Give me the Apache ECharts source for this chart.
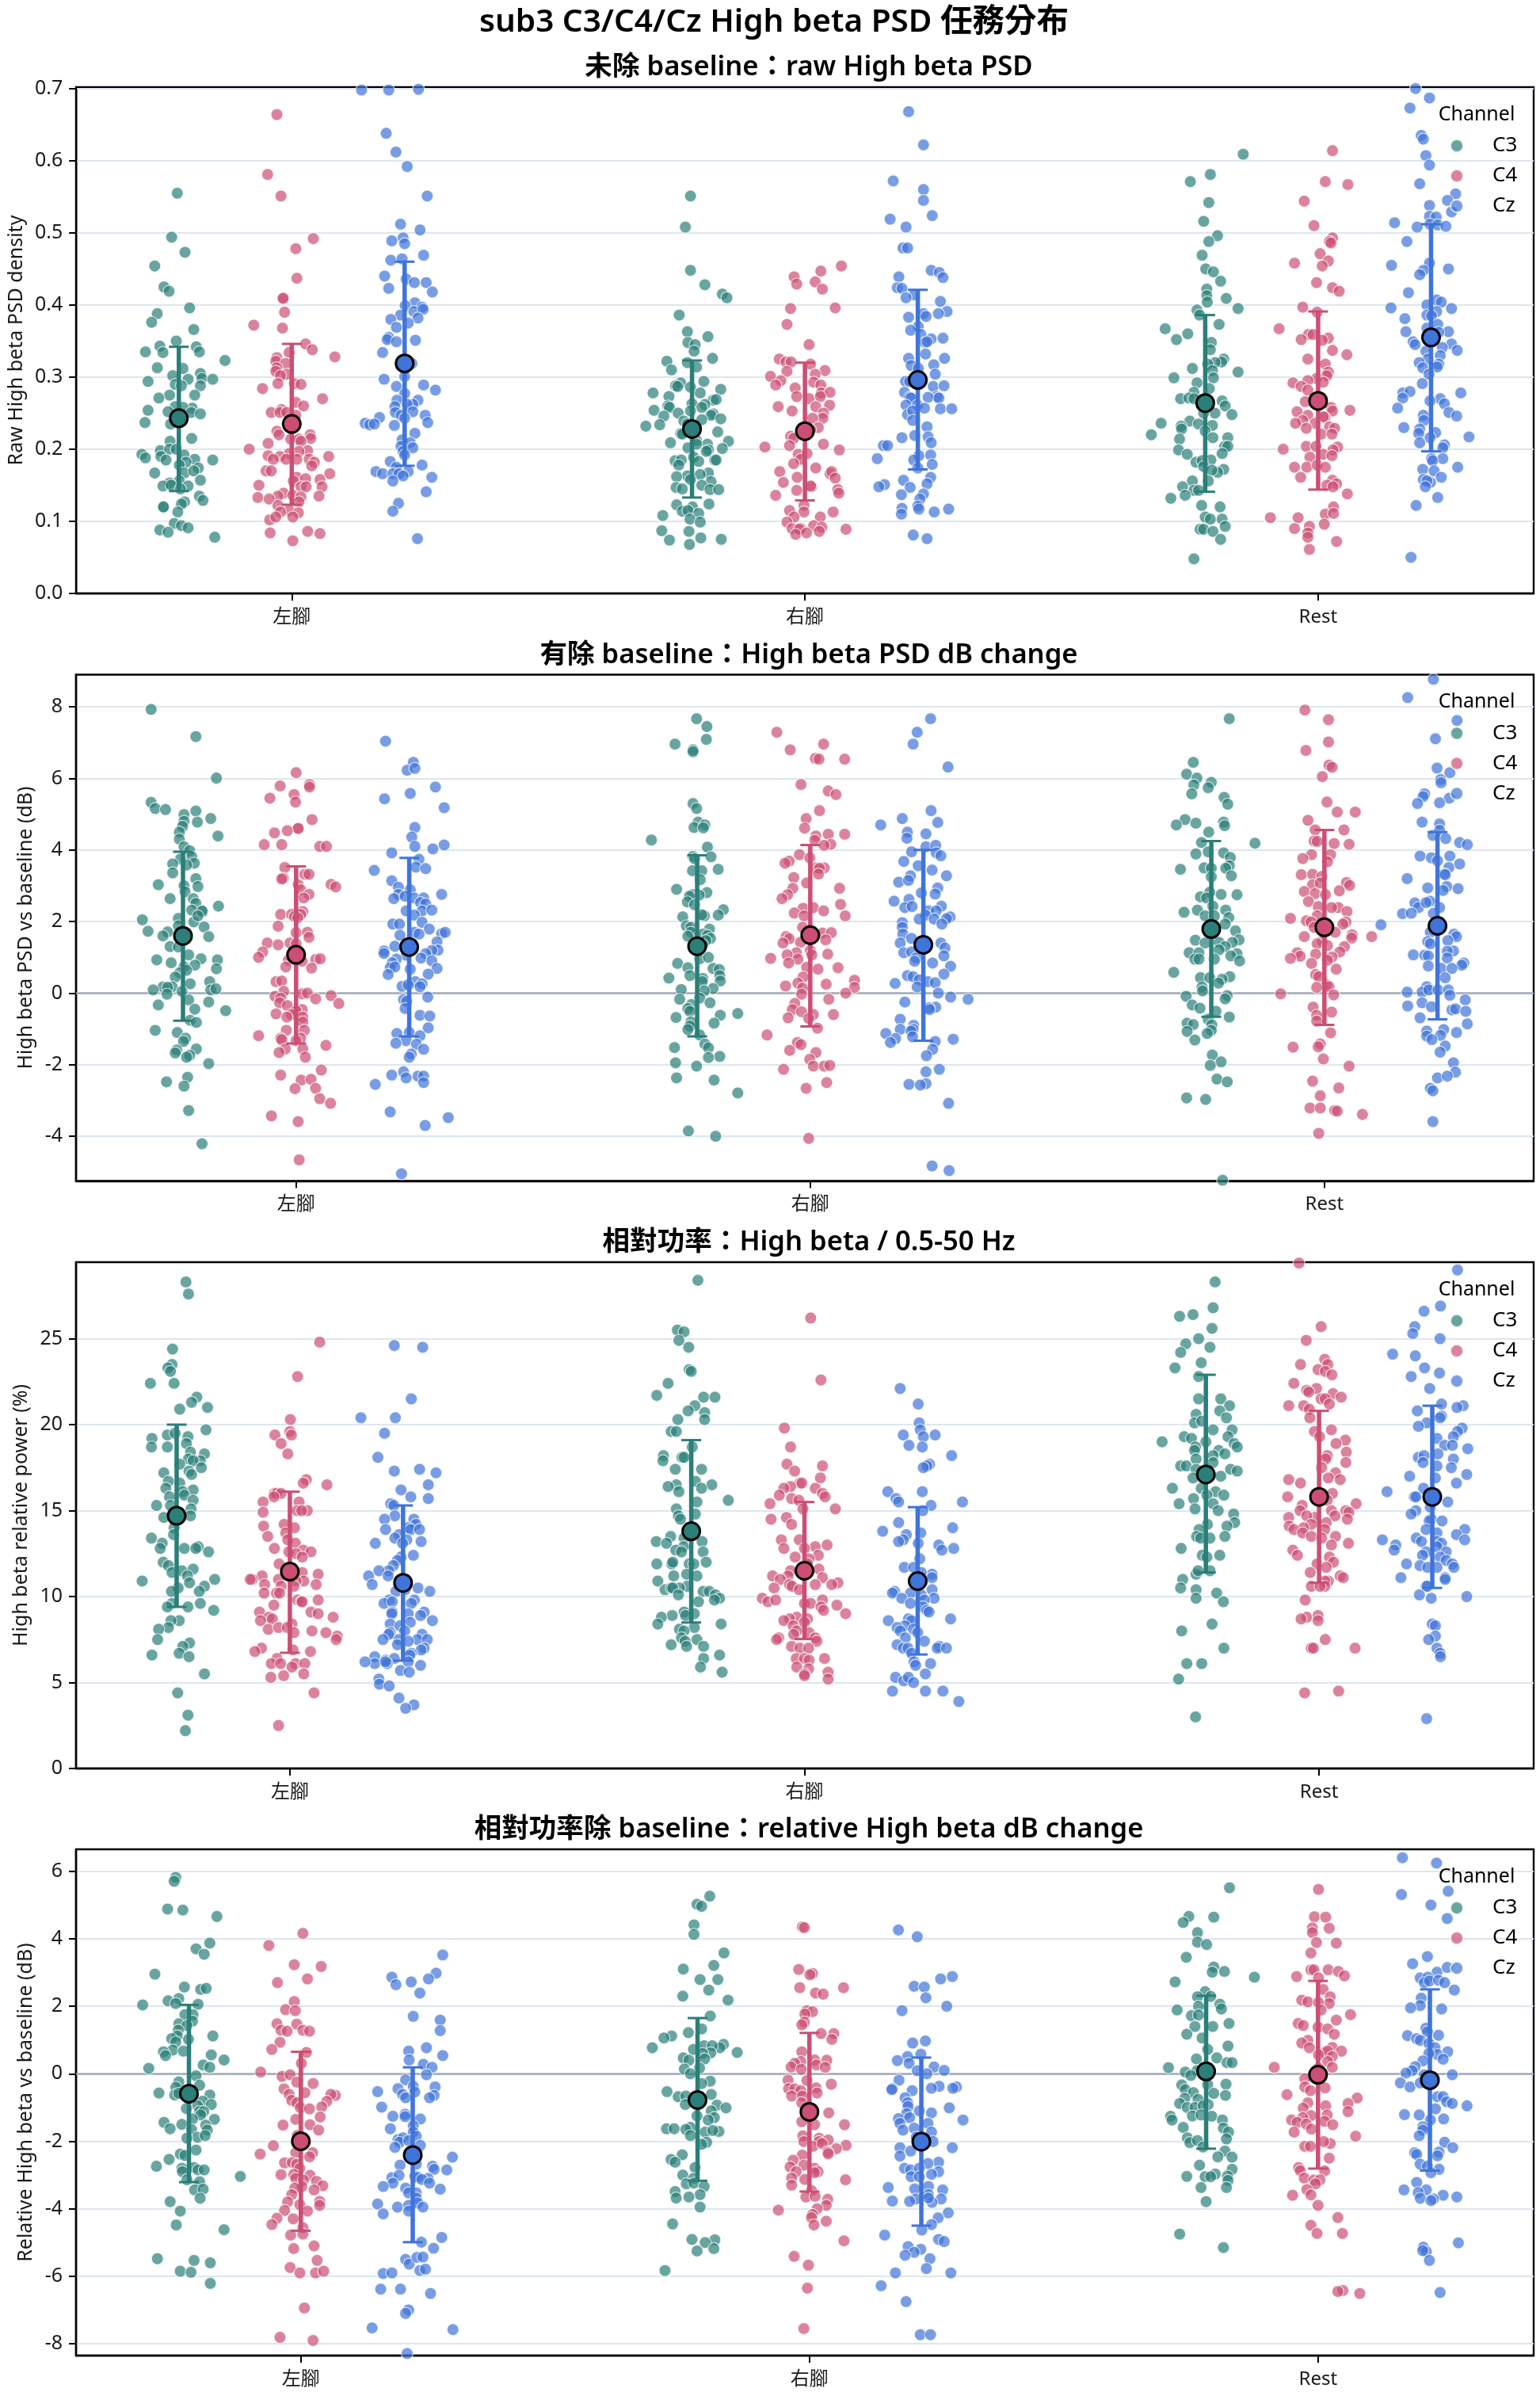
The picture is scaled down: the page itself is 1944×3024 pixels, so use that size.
<!DOCTYPE html>
<html>
<head>
<meta charset="utf-8">
<script src="https://cdn.jsdelivr.net/npm/echarts@6/dist/echarts.min.js"></script>
<style>html,body{margin:0;padding:0;background:#fff}#chart{width:1944px;height:3024px}</style>
</head>
<body>
<div id="chart"></div>
<script>
// Each observation is a [jitter, value] pair; jitter is the horizontal strip offset in category units.
// Raw High beta PSD density
const raw_left_C3=[[-.003,.555],[-.014,.494],[.012,.473],[-.047,.454],[-.029,.425],[-.019,.419],[.021,.396],[-.042,.388],[-.053,.376],[.029,.366],[-.005,.35],[-.037,.343],[.034,.342],[-.065,.335],[-.031,.334],[.04,.335],[.09,.323],[-.042,.313],[.008,.312],[.042,.305],[-.012,.302],[.045,.298],[.066,.297],[-.06,.294],[.018,.297],[-.007,.29],[.005,.288],[.042,.288],[-.018,.275],[.031,.275],[-.039,.271],[-.007,.259],[.026,.257],[.008,.258],[-.021,.252],[-.06,.254],[.024,.251],[.042,.249],[-.066,.237],[-.016,.235],[.025,.215],[-.017,.211],[-.036,.198],[-.018,.2],[-.005,.2],[.01,.192],[-.072,.193],[-.065,.188],[-.035,.19],[-.025,.185],[.066,.185],[.031,.186],[.014,.182],[.001,.178],[.038,.174],[-.047,.167],[.011,.167],[.029,.17],[.042,.157],[.001,.156],[-.018,.153],[-.031,.149],[.018,.149],[-.015,.15],[.003,.145],[.04,.135],[.047,.129],[.011,.127],[.005,.124],[-.03,.12],[-.03,.12],[-.002,.113],[-.009,.097],[.005,.094],[.018,.091],[-.037,.088],[-.021,.085],[.07,.078]];
const raw_left_C4=[[-.029,.664],[-.047,.581],[-.021,.551],[.042,.492],[.008,.478],[.01,.437],[-.016,.41],[-.017,.409],[-.014,.39],[-.074,.372],[-.018,.368],[.027,.346],[-.005,.334],[.04,.338],[.084,.328],[-.029,.327],[-.031,.322],[-.012,.319],[-.029,.313],[-.031,.308],[-.01,.304],[-.022,.302],[-.027,.291],[.005,.291],[.018,.29],[-.057,.284],[.06,.27],[.008,.265],[.023,.26],[-.02,.255],[-.04,.251],[-.023,.251],[-.01,.251],[.008,.247],[-.029,.225],[-.025,.22],[.036,.22],[.037,.215],[-.002,.214],[.014,.214],[.018,.211],[-.046,.208],[.031,.198],[-.083,.2],[.014,.197],[-.005,.194],[-.046,.191],[-.023,.19],[.072,.19],[-.036,.186],[-.011,.186],[.01,.186],[.034,.186],[.044,.182],[.039,.177],[-.05,.17],[-.04,.17],[.074,.166],[.01,.161],[.027,.159],[.055,.158],[.003,.156],[-.064,.15],[.018,.148],[.059,.148],[.028,.148],[-.016,.139],[-.027,.135],[.002,.136],[.053,.135],[-.066,.133],[-.044,.131],[.018,.134],[.014,.127],[-.027,.122],[-.005,.115],[-.022,.113],[.013,.112],[-.043,.102],[-.031,.106],[.002,.106],[.031,.086],[-.042,.084],[.055,.083],[.002,.073]];
const raw_left_Cz=[[-.084,.698],[-.031,.698],[.027,.699],[-.036,.638],[-.017,.612],[.005,.592],[.044,.551],[-.008,.512],[.03,.504],[-.003,.493],[-.025,.489],[0,.485],[.037,.469],[-.027,.462],[-.005,.464],[-.039,.44],[.003,.436],[.019,.431],[.042,.431],[-.031,.423],[.054,.418],[.02,.403],[.001,.399],[.034,.397],[.018,.391],[.036,.394],[-.008,.386],[.026,.382],[-.027,.38],[.007,.375],[-.016,.369],[-.031,.355],[-.034,.352],[-.016,.349],[.021,.351],[-.043,.334],[.007,.319],[.014,.319],[0,.301],[-.04,.297],[.037,.289],[-.016,.287],[.06,.282],[0,.277],[-.015,.268],[.026,.268],[-.019,.259],[.016,.262],[.005,.262],[.016,.252],[-.018,.251],[-.007,.247],[.04,.247],[0,.243],[-.049,.244],[-.077,.236],[-.068,.234],[-.059,.235],[.045,.237],[-.02,.233],[.02,.222],[-.005,.213],[.011,.209],[-.007,.204],[-.003,.197],[.016,.202],[0,.192],[-.028,.183],[-.016,.175],[.034,.178],[-.056,.169],[-.043,.166],[.007,.169],[-.023,.166],[-.011,.166],[-.003,.163],[.053,.161],[-.023,.156],[.042,.141],[-.012,.125],[-.023,.114],[.025,.076]];
const raw_right_C3=[[-.003,.551],[-.013,.508],[-.003,.448],[.025,.428],[.059,.415],[.068,.41],[-.025,.386],[-.009,.363],[.031,.356],[-.008,.348],[.006,.345],[.004,.336],[.04,.326],[-.049,.322],[-.009,.32],[.009,.314],[-.04,.31],[.023,.294],[-.022,.292],[-.032,.288],[-.028,.287],[-.003,.286],[.056,.283],[-.076,.278],[.016,.278],[-.045,.273],[.041,.268],[.047,.269],[0,.263],[-.047,.26],[-.044,.258],[.025,.262],[.019,.258],[-.074,.254],[-.027,.25],[-.003,.253],[.041,.249],[-.055,.246],[.037,.247],[.056,.242],[.019,.241],[-.016,.239],[-.009,.235],[-.09,.232],[-.063,.234],[.05,.224],[-.022,.222],[-.019,.221],[.009,.212],[-.042,.209],[.071,.211],[.03,.207],[.009,.207],[-.008,.202],[.032,.199],[.059,.201],[.028,.197],[.003,.189],[-.033,.184],[-.021,.185],[.044,.185],[.047,.185],[.013,.183],[-.026,.178],[.032,.167],[.016,.165],[-.009,.163],[-.03,.162],[-.003,.158],[.037,.155],[.019,.15],[-.031,.147],[-.019,.145],[.035,.144],[.052,.144],[-.03,.123],[.033,.124],[.001,.12],[-.019,.114],[-.008,.115],[.013,.111],[-.057,.108],[-.004,.103],[.016,.099],[-.059,.087],[-.006,.086],[.017,.077],[-.044,.074],[.057,.075],[-.005,.068]];
const raw_right_C4=[[.071,.454],[-.021,.439],[.031,.447],[-.016,.429],[.02,.432],[.034,.422],[-.028,.395],[.059,.396],[-.035,.373],[.008,.345],[-.05,.325],[-.037,.321],[-.027,.321],[.011,.318],[.039,.309],[-.035,.308],[-.067,.301],[.02,.304],[-.047,.295],[.017,.293],[-.057,.289],[.031,.289],[-.019,.285],[.032,.278],[.049,.279],[-.016,.273],[.03,.273],[.008,.27],[-.052,.259],[.021,.259],[.048,.261],[-.025,.253],[.036,.25],[.035,.243],[.015,.243],[.026,.23],[.011,.227],[-.028,.218],[-.022,.215],[-.03,.205],[.036,.207],[-.078,.203],[.067,.199],[-.013,.193],[.004,.194],[-.008,.186],[-.022,.18],[.021,.174],[-.049,.169],[.049,.166],[.052,.169],[.059,.16],[-.015,.161],[-.042,.154],[.013,.148],[.011,.149],[-.016,.143],[.064,.144],[.066,.139],[-.057,.136],[-.002,.122],[-.03,.115],[-.002,.113],[.055,.113],[-.021,.106],[.03,.106],[-.035,.099],[.017,.094],[.033,.092],[-.025,.09],[-.008,.09],[-.011,.089],[-.018,.082],[.003,.084],[.028,.086],[.08,.089]];
const raw_right_Cz=[[-.018,.668],[.011,.622],[-.048,.572],[.011,.56],[.011,.545],[.028,.524],[-.054,.519],[-.023,.508],[-.029,.479],[-.02,.479],[.026,.448],[.042,.445],[.049,.438],[-.037,.439],[-.04,.424],[-.031,.423],[-.007,.414],[-.023,.41],[.044,.405],[.011,.388],[.057,.391],[.04,.388],[.016,.384],[-.018,.383],[.001,.37],[-.014,.365],[.006,.359],[.026,.353],[.049,.354],[.014,.348],[.018,.349],[.015,.332],[-.018,.326],[.052,.326],[-.013,.316],[.001,.312],[.031,.317],[.034,.304],[-.024,.294],[-.016,.294],[.03,.287],[.051,.288],[-.026,.279],[.037,.273],[.02,.272],[-.016,.272],[.041,.271],[-.013,.271],[-.023,.261],[-.001,.261],[-.02,.248],[.013,.257],[.044,.256],[.066,.256],[-.01,.253],[-.01,.24],[.018,.231],[-.031,.216],[-.006,.219],[.02,.217],[.026,.209],[-.067,.205],[-.059,.205],[.025,.192],[.002,.191],[-.079,.187],[-.008,.185],[.028,.179],[0,.174],[.025,.161],[-.028,.157],[-.065,.151],[-.076,.148],[-.015,.147],[.018,.152],[.011,.138],[-.032,.137],[.004,.131],[0,.121],[-.031,.118],[.002,.117],[.06,.117],[.032,.113],[-.032,.11],[-.009,.081],[.018,.076]];
const raw_rest_C3=[[.074,.609],[.01,.581],[-.029,.571],[.007,.542],[-.003,.516],[.024,.496],[.007,.488],[-.006,.469],[.001,.45],[.016,.446],[.03,.433],[.003,.422],[.003,.413],[.041,.409],[.004,.404],[.064,.395],[-.016,.393],[-.011,.386],[.027,.373],[-.078,.367],[-.034,.36],[-.056,.352],[.012,.348],[.01,.338],[.036,.325],[.032,.321],[.019,.32],[.005,.318],[-.025,.312],[.014,.309],[.064,.307],[-.061,.299],[.016,.299],[-.016,.292],[.008,.284],[-.022,.279],[-.048,.27],[-.032,.271],[-.022,.27],[.033,.267],[.039,.26],[.019,.25],[-.003,.25],[.052,.248],[-.086,.236],[-.03,.239],[-.013,.235],[-.047,.232],[-.046,.228],[.014,.233],[-.105,.22],[0,.225],[.015,.216],[.044,.216],[-.05,.214],[.038,.204],[.044,.204],[-.052,.199],[.033,.194],[-.035,.193],[.011,.185],[-.018,.182],[-.006,.184],[-.003,.176],[.036,.172],[.024,.168],[.013,.171],[-.025,.156],[.006,.156],[-.044,.148],[-.022,.143],[-.013,.143],[-.039,.136],[-.067,.132],[-.007,.122],[.029,.12],[0,.106],[.01,.103],[.033,.103],[.039,.093],[-.01,.089],[-.003,.089],[.015,.086],[.03,.075],[-.022,.048]];
const raw_rest_C4=[[.028,.614],[.014,.571],[.058,.567],[-.027,.544],[-.008,.51],[.028,.493],[.022,.488],[.025,.486],[.004,.471],[.02,.461],[-.046,.458],[.008,.454],[-.003,.431],[.028,.424],[.041,.419],[-.03,.397],[-.002,.39],[-.076,.367],[-.019,.359],[-.01,.359],[.02,.354],[-.033,.352],[.008,.351],[.028,.337],[.056,.331],[-.02,.325],[.014,.318],[.02,.307],[.017,.302],[-.003,.298],[-.049,.292],[-.02,.295],[.01,.293],[-.033,.287],[-.02,.282],[-.025,.266],[.025,.258],[.028,.253],[.062,.254],[-.041,.252],[-.02,.247],[.013,.244],[.01,.245],[-.03,.24],[-.044,.236],[-.006,.236],[.022,.231],[.032,.229],[-.023,.229],[.006,.221],[.027,.221],[-.068,.2],[-.023,.204],[-.004,.204],[.038,.203],[.029,.199],[-.016,.189],[.01,.193],[.027,.191],[-.046,.175],[-.022,.175],[-.002,.178],[.014,.175],[-.034,.161],[.028,.157],[.036,.152],[.017,.15],[.029,.148],[.057,.138],[.03,.12],[.014,.11],[.03,.111],[-.093,.105],[-.039,.105],[.012,.096],[-.017,.093],[-.046,.09],[-.02,.084],[-.02,.078],[.036,.072],[-.017,.061]];
const raw_rest_Cz=[[-.03,.7],[-.003,.687],[-.041,.673],[-.019,.635],[-.015,.63],[-.01,.607],[-.003,.594],[-.022,.568],[.048,.554],[.032,.545],[-.003,.538],[.04,.529],[-.003,.523],[.01,.522],[-.071,.514],[-.002,.512],[.013,.511],[.029,.509],[-.027,.508],[-.047,.488],[-.077,.455],[-.003,.458],[.034,.45],[-.015,.448],[-.022,.442],[-.044,.417],[.011,.407],[.02,.404],[-.008,.4],[-.078,.396],[.04,.395],[.011,.391],[-.008,.386],[.001,.385],[-.051,.381],[.013,.373],[-.008,.368],[-.049,.363],[.034,.363],[.015,.362],[-.035,.349],[-.031,.345],[.04,.346],[.022,.341],[.051,.337],[-.01,.336],[.018,.33],[-.006,.325],[-.023,.32],[.015,.318],[-.016,.313],[.012,.314],[-.004,.304],[-.017,.291],[-.055,.278],[-.041,.28],[.058,.278],[-.055,.271],[.018,.27],[-.002,.267],[.026,.263],[-.065,.257],[.035,.251],[-.015,.247],[.05,.246],[-.014,.24],[-.053,.23],[-.022,.228],[-.024,.222],[.009,.223],[.074,.217],[-.002,.216],[-.022,.209],[.026,.206],[.023,.202],[.001,.187],[.023,.187],[.003,.184],[.052,.175],[-.016,.172],[.006,.17],[.02,.161],[-.015,.158],[-.001,.154],[-.008,.156],[-.011,.148],[.013,.133],[-.029,.122],[-.039,.05]];
// High beta PSD vs baseline (dB)
const db_left_C3=[[-.062,7.93],[.025,7.17],[.065,6.01],[-.062,5.33],[-.054,5.16],[-.034,5.13],[.025,5.09],[.002,4.99],[.054,4.88],[.002,4.8],[.028,4.78],[-.001,4.66],[-.007,4.5],[.068,4.39],[-.007,4.3],[.002,4.09],[.013,3.98],[.017,3.81],[-.005,3.75],[-.02,3.61],[.022,3.63],[.007,3.58],[-.02,3.36],[.025,3.2],[-.048,3.03],[.002,3],[.029,2.98],[.004,2.83],[-.025,2.64],[.02,2.64],[.025,2.51],[.069,2.43],[.017,2.32],[.038,2.27],[.037,2.3],[-.009,2.09],[-.079,2.05],[.021,1.99],[.029,2.16],[.041,1.85],[-.068,1.73],[-.03,1.71],[.05,1.58],[-.039,1.6],[-.009,1.88],[-.025,1.3],[-.009,1.29],[.011,1.07],[-.051,.93],[-.023,.85],[.035,.96],[.067,.93],[.023,.78],[.002,.73],[.065,.68],[-.006,.57],[.007,.64],[-.015,.45],[.014,.26],[.052,.32],[-.021,.18],[-.039,.17],[-.058,.09],[-.03,.16],[.054,.09],[.064,.12],[-.002,.05],[-.031,-.03],[.011,-.19],[.05,-.25],[-.048,-.33],[.023,-.45],[.083,-.49],[.014,-.76],[.026,-.82],[-.054,-1.04],[-.011,-1.1],[.005,-1.26],[.001,-1.35],[.026,-1.56],[-.012,-1.59],[-.015,-1.67],[.013,-1.74],[.007,-1.79],[.05,-1.97],[.009,-2.35],[-.032,-2.48],[.002,-2.6],[.011,-3.28],[.037,-4.21]];
const db_left_C4=[[0,6.16],[-.031,5.79],[.026,5.83],[.026,5.76],[-.004,5.55],[-.051,5.45],[-.001,5.34],[.031,4.85],[.004,4.61],[.004,4.6],[-.017,4.54],[-.042,4.48],[-.062,4.15],[-.028,4.15],[.046,4.1],[.059,4.1],[-.022,3.51],[.017,3.32],[.025,3.32],[-.025,3.21],[-.028,3.19],[.068,3.04],[.077,2.97],[.004,3.03],[.009,2.89],[.025,2.76],[.015,2.66],[.013,2.28],[-.03,2.2],[-.009,2.2],[.009,2.2],[-.003,2.14],[.003,2.11],[-.035,1.87],[0,1.69],[.022,1.7],[.025,1.56],[-.056,1.4],[-.035,1.35],[-.012,1.4],[0,1.38],[-.065,1.15],[-.073,1],[-.015,.92],[.038,.94],[.047,.96],[.012,.89],[-.02,.73],[.03,.7],[-.039,.32],[-.028,.34],[-.024,.05],[-.041,-.09],[.012,-.02],[.022,0],[-.03,-.14],[.038,-.16],[.068,-.07],[-.032,-.27],[.083,-.29],[-.017,-.35],[.012,-.46],[-.039,-.58],[0,-.5],[-.009,-.6],[-.018,-.67],[.013,-.67],[.013,-.81],[-.019,-1.04],[.016,-1.04],[-.073,-1.19],[.009,-1.26],[-.03,-1.26],[-.028,-1.3],[0,-1.33],[.058,-1.46],[-.021,-1.56],[.013,-1.56],[-.033,-1.66],[.018,-1.79],[.049,-2.15],[-.03,-2.29],[.01,-2.43],[.029,-2.41],[-.002,-2.67],[.038,-2.66],[.046,-2.95],[.067,-3.08],[-.048,-3.43],[.004,-3.59],[.006,-4.66]];
const db_left_Cz=[[-.046,7.04],[.008,6.45],[-.004,6.23],[.011,6.28],[.051,5.76],[.002,5.58],[-.048,5.43],[.068,5.18],[.011,4.63],[.005,4.36],[.011,4.1],[.068,4.14],[.046,4.03],[-.034,3.92],[.019,3.74],[.013,3.52],[.032,3.48],[-.068,3.43],[-.034,3.14],[-.021,2.96],[.002,2.89],[.063,2.76],[-.021,2.76],[-.03,2.64],[-.008,2.71],[.01,2.66],[.028,2.66],[.022,2.53],[.032,2.49],[.025,2.3],[.044,2.32],[-.006,2.3],[.01,2.18],[-.032,1.93],[-.019,1.93],[.025,1.98],[.039,1.79],[-.018,1.62],[.01,1.7],[.019,1.65],[.063,1.66],[.07,1.7],[.054,1.43],[-.028,1.31],[-.049,1.18],[-.049,1.11],[.056,1.2],[.044,1.19],[.032,1.1],[-.006,1.06],[.023,.98],[-.025,.95],[.044,.9],[-.033,.85],[-.037,.71],[-.028,.73],[.002,.67],[.054,.69],[-.041,.52],[.037,.53],[.012,.32],[-.014,.19],[-.002,.23],[.025,.26],[.021,.18],[.036,-.11],[-.011,-.18],[-.005,-.23],[-.008,-.43],[.021,-.62],[.04,-.64],[.037,-.97],[-.024,-1.13],[0,-1.1],[.021,-1.19],[-.006,-1.33],[-.026,-1.4],[.014,-1.43],[.028,-1.57],[.004,-1.7],[0,-1.79],[-.011,-2.2],[-.034,-2.29],[-.006,-2.37],[.017,-2.32],[.028,-2.32],[.028,-2.5],[-.066,-2.55],[-.037,-3.32],[.076,-3.48],[.031,-3.7],[-.015,-5.05]];
const db_right_C3=[[-.001,7.67],[.019,7.45],[.018,7.09],[-.043,6.96],[-.008,6.8],[-.008,6.75],[-.008,5.3],[-.001,5.16],[.002,4.78],[.015,4.7],[-.006,4.63],[.012,4.62],[-.089,4.28],[.02,4.08],[-.008,3.82],[.027,3.81],[-.005,3.76],[.041,3.46],[-.009,3.42],[.009,3.42],[.006,3.17],[-.04,2.9],[.019,2.81],[-.009,2.75],[.004,2.74],[-.015,2.71],[-.019,2.55],[-.005,2.47],[.051,2.33],[.041,2.18],[-.028,2.13],[.014,2.16],[.009,2.19],[-.021,1.88],[-.012,1.84],[.024,1.79],[-.012,1.7],[.011,1.65],[.02,1.61],[-.018,1.59],[.026,1.53],[.017,1.47],[0,1.42],[.011,1.35],[.005,.96],[.022,1],[-.038,.83],[-.018,.71],[.031,.69],[.043,.66],[.044,.49],[-.014,.49],[-.055,.42],[.011,.41],[.045,.34],[.01,.32],[-.031,.1],[.031,.13],[.014,.06],[-.034,-.17],[.005,-.14],[.025,-.27],[-.011,-.32],[-.018,-.43],[-.014,-.51],[.079,-.57],[.045,-.62],[-.041,-.68],[-.012,-.8],[.033,-.84],[-.014,-.92],[-.018,-1.02],[.005,-1.17],[.015,-1.42],[.022,-1.53],[-.044,-1.52],[.044,-1.77],[.022,-1.8],[-.042,-1.95],[-.001,-2.04],[-.04,-2.37],[.033,-2.43],[.079,-2.79],[-.017,-3.85],[.036,-4]];
const db_right_C4=[[-.065,7.29],[.026,6.96],[-.039,6.8],[.01,6.56],[.017,6.54],[.067,6.54],[-.018,5.83],[.035,5.65],[.05,5.55],[.018,5.1],[-.008,4.88],[-.011,4.61],[.011,4.39],[.035,4.44],[.067,4.44],[.009,4.27],[.04,4.16],[.027,4.13],[-.021,3.87],[-.001,3.78],[-.041,3.69],[-.049,3.63],[.01,3.5],[.027,3.5],[.018,3.49],[.016,3.33],[-.032,3.23],[-.007,3.08],[.057,2.93],[-.034,2.93],[-.044,2.75],[-.055,2.64],[.059,2.48],[-.014,2.37],[.006,2.39],[.026,2.3],[-.031,2.24],[-.012,2.16],[.068,2.16],[-.015,1.84],[.024,1.68],[.041,1.69],[-.047,1.58],[-.041,1.52],[.03,1.49],[-.053,1.4],[-.019,1.42],[0,1.19],[-.027,1.13],[.034,1.09],[-.045,1.07],[.003,1.07],[-.077,.97],[-.024,.95],[-.042,.84],[-.007,.72],[.015,.67],[.054,.71],[-.014,.45],[-.024,.28],[-.048,.2],[.031,.25],[.086,.36],[.086,.16],[-.015,.14],[-.017,-.03],[.069,0],[.036,-.17],[-.03,-.29],[-.035,-.46],[-.017,-.52],[.006,-.6],[.045,-.6],[-.043,-.69],[-.003,-.71],[.014,-.98],[-.084,-1.17],[-.025,-1.38],[-.018,-1.44],[-.04,-1.6],[.011,-1.66],[-.001,-1.85],[.006,-2.04],[-.052,-2.13],[.027,-2.04],[.038,-2.02],[.032,-2.5],[-.008,-2.66],[-.003,-4.06]];
const db_right_Cz=[[.014,7.67],[-.012,7.29],[-.02,6.96],[.048,6.32],[.015,5.1],[-.041,4.88],[.028,4.77],[-.083,4.7],[-.031,4.5],[.005,4.45],[-.032,4.33],[.005,4.09],[.024,4.13],[-.023,3.95],[.025,3.92],[.034,3.84],[-.038,3.68],[-.01,3.56],[.017,3.44],[.045,3.28],[-.025,3.28],[-.048,3.1],[-.029,3.15],[.028,2.94],[-.004,2.8],[.023,2.77],[-.028,2.62],[-.057,2.57],[-.036,2.39],[-.022,2.42],[.035,2.43],[.01,2.3],[.025,2.3],[.004,2.18],[.052,2.13],[.021,2.07],[-.008,2.07],[.045,2.08],[.036,1.93],[-.041,1.97],[-.041,1.84],[-.04,1.65],[-.023,1.53],[-.045,1.4],[.034,1.4],[.042,1.26],[-.038,1.13],[-.023,1.15],[.04,1.04],[-.014,.98],[-.017,.89],[.018,.84],[.053,.75],[.04,.53],[-.031,.49],[-.02,.46],[-.008,.37],[.009,.32],[.023,.29],[-.055,.27],[-.012,.17],[.029,0],[.053,-.11],[.087,-.17],[-.036,-.25],[.024,-.39],[.011,-.41],[.012,-.46],[-.045,-.73],[-.019,-.9],[-.045,-1.01],[-.02,-1.01],[-.024,-1.06],[-.073,-1.13],[-.054,-1.27],[-.064,-1.38],[-.021,-1.22],[.058,-1.29],[.023,-1.35],[.018,-1.57],[.006,-1.75],[.031,-2.13],[.005,-2.2],[.005,-2.53],[-.028,-2.55],[-.006,-2.57],[.049,-3.08],[.017,-4.83],[.05,-4.96]];
const db_rest_C3=[[.035,7.67],[-.035,6.45],[-.048,6.12],[-.028,6.01],[-.034,5.82],[0,5.89],[-.006,5.74],[-.038,5.57],[.025,5.47],[.032,5.28],[-.051,4.85],[.024,4.78],[.026,4.68],[-.068,4.7],[-.03,4.75],[-.005,4.5],[-.019,4.21],[.085,4.19],[.024,3.92],[-.03,3.89],[-.006,3.95],[.037,3.79],[.035,3.56],[-.06,3.46],[-.014,3.5],[0,3.49],[.028,3.49],[.039,3.28],[0,3.25],[.019,2.76],[.05,2.75],[-.003,2.82],[-.021,2.69],[-.009,2.66],[.003,2.43],[-.027,2.32],[.028,2.32],[-.053,2.26],[-.012,2.16],[.006,2.16],[.034,2.11],[.027,1.93],[.047,1.74],[.054,1.49],[-.031,1.48],[.015,1.42],[-.012,1.4],[.041,1.42],[.027,1.3],[.015,1.21],[-.043,1.13],[-.024,1.13],[.05,1.1],[-.032,.95],[-.024,.95],[.006,.95],[.038,1.04],[.055,.9],[-.073,.58],[-.021,.43],[-.003,.43],[.036,.46],[.021,.39],[.014,.28],[-.018,.17],[-.017,.06],[-.049,-.09],[.031,-.07],[.027,-.16],[-.037,-.33],[-.022,-.42],[.009,-.51],[.035,-.67],[-.006,-.73],[-.047,-.84],[-.035,-.88],[.001,-.89],[0,-1.04],[-.047,-1.07],[-.008,-1.13],[-.032,-1.31],[.002,-1.73],[.019,-1.92],[-.002,-2.02],[.011,-2.4],[.031,-2.48],[-.048,-2.93],[-.011,-2.97],[.022,-5.23]];
const db_rest_C4=[[-.038,7.91],[.008,7.64],[.008,7.02],[-.036,6.78],[.009,6.37],[.015,6.31],[-.004,6.05],[.005,5.34],[.025,5.06],[.06,5.06],[-.032,4.83],[-.018,4.56],[.038,4.56],[-.02,4.25],[-.014,4.24],[.019,4.18],[.048,4.16],[-.025,3.87],[.012,3.87],[-.042,3.76],[.006,3.67],[-.045,3.31],[-.023,3.32],[-.005,3.26],[.043,3.09],[.049,3.01],[-.023,3.03],[-.008,3.08],[.029,2.86],[-.039,2.84],[-.018,2.78],[.002,2.75],[-.031,2.56],[-.012,2.42],[.027,2.39],[.014,2.39],[.044,2.28],[-.066,2.09],[-.014,2.16],[-.035,2.02],[-.026,1.99],[.042,1.99],[.036,1.93],[-.02,1.84],[.021,1.7],[.054,1.63],[.053,1.54],[-.039,1.58],[.092,1.58],[-.004,1.45],[-.014,1.38],[.039,1.3],[.006,1.33],[-.017,1.09],[.03,1.15],[-.053,1.13],[-.047,1.03],[.015,1.01],[-.066,.97],[.006,.92],[-.025,.83],[.023,.67],[-.017,.52],[-.011,.46],[.004,.23],[.009,.18],[-.015,.16],[-.085,-.02],[.018,-.05],[-.022,-.39],[.014,-.53],[-.015,-.62],[-.015,-.78],[.012,-1.11],[-.008,-1.42],[-.061,-1.51],[-.012,-1.5],[-.002,-1.84],[.048,-2.04],[-.023,-2.46],[.028,-2.65],[-.008,-2.87],[-.028,-3.21],[-.008,-3.21],[.02,-3.28],[.025,-3.3],[.074,-3.39],[-.011,-3.92]];
const db_rest_Cz=[[-.008,8.77],[-.058,8.26],[.038,7.62],[-.004,7.11],[-.001,6.29],[.024,6.16],[.006,5.97],[.007,5.88],[-.025,5.57],[-.028,5.49],[-.039,5.3],[.023,5.45],[.004,5.32],[-.03,4.78],[.004,4.73],[-.009,4.41],[.004,4.55],[.016,4.32],[.043,4.21],[.058,4.15],[-.034,3.83],[-.012,3.78],[.024,3.83],[0,3.7],[.043,3.61],[.022,3.51],[.013,3.33],[.015,3.31],[-.059,3.2],[-.019,2.94],[.018,2.98],[.04,2.92],[.011,2.87],[-.015,2.57],[-.044,2.52],[-.037,2.39],[-.022,2.53],[.004,2.39],[-.068,2.22],[-.051,2.23],[-.008,2.23],[-.11,1.91],[-.014,1.7],[.032,1.65],[.037,1.58],[-.019,1.44],[.02,1.47],[-.014,1.38],[.031,1.18],[.019,1.17],[-.047,1.07],[-.025,1.06],[-.018,1.04],[.019,.98],[.051,.84],[.047,.78],[-.018,.76],[.007,.69],[.028,.69],[.015,.43],[-.021,.18],[-.059,.03],[-.03,.03],[-.017,.09],[.001,.09],[.021,.09],[.024,-.06],[.054,-.19],[-.03,-.27],[-.058,-.36],[-.012,-.38],[.028,-.47],[.035,-.44],[.055,-.51],[-.034,-.69],[.058,-.86],[-.021,-1.06],[.012,-1.02],[.037,-1.1],[-.021,-1.2],[.006,-1.18],[-.011,-1.3],[.015,-1.48],[.005,-1.65],[.031,-1.95],[.035,-2.21],[0,-2.37],[.019,-2.32],[-.014,-2.66],[-.009,-2.73],[-.009,-3.59]];
// High beta relative power (%)
const rel_left_C3=[[.018,28.3],[.023,27.6],[-.008,24.4],[-.009,23.5],[-.017,23.3],[-.012,23.1],[-.051,22.4],[-.005,22.4],[.039,21.6],[.029,21.3],[.006,20.9],[.06,21],[.057,19.7],[-.018,19.4],[-.003,19.5],[.022,19.3],[-.048,19.2],[-.049,18.7],[-.018,18.7],[.019,18.9],[.027,18.4],[.054,18.3],[.023,18],[.046,17.9],[.032,17.9],[.006,17.7],[.048,17.5],[.024,17.3],[-.025,17.2],[.029,17.1],[-.016,16.7],[.006,16.6],[-.021,16.3],[.032,16.2],[.012,16.1],[-.014,15.8],[.015,15.9],[.032,15.6],[-.039,15.3],[-.012,15.3],[.028,15.1],[.027,14.7],[-.025,14.6],[-.005,14],[-.006,13.6],[-.049,13.4],[-.028,13.1],[-.032,12.8],[.015,12.8],[.042,12.9],[.037,12.8],[.062,12.6],[-.026,12],[-.016,11.8],[.01,11.5],[.032,11.6],[-.009,11.4],[.021,11.2],[-.067,10.9],[.074,11],[.025,10.8],[.054,10.6],[.003,10.5],[.044,10.3],[-.01,10.3],[.046,9.6],[-.009,9.6],[-.018,9.4],[.022,9.4],[.072,9.2],[.005,8.6],[-.011,8.6],[-.016,8.2],[-.035,8.1],[-.037,7.5],[.025,7.3],[.012,7.1],[.005,6.7],[-.048,6.6],[.024,6.5],[.054,5.5],[.002,4.4],[.022,3.1],[.017,2.2]];
const rel_left_C4=[[.058,24.8],[.015,22.8],[.001,20.3],[0,19.6],[.003,19.4],[-.029,19.4],[-.017,18.9],[-.004,18.3],[.032,16.8],[.026,16.6],[.072,16.5],[-.03,16],[-.026,16],[-.017,16],[-.031,15.8],[-.052,15.5],[.018,15.5],[-.052,14.9],[.014,15],[.034,15],[.023,15],[-.011,14.2],[-.051,14.1],[.009,14],[-.008,13.7],[-.043,13.5],[-.004,13.3],[.011,13.1],[-.03,12.8],[-.002,12.6],[.026,12.7],[.041,12.6],[.012,12.5],[.024,12.3],[-.021,11.9],[.024,11.4],[.055,11.3],[-.054,11.2],[-.073,11],[-.077,11],[-.022,11],[.027,10.9],[.012,10.9],[-.049,10.7],[.051,10.7],[-.017,10.6],[.008,10.6],[-.05,10.2],[-.026,10.2],[-.02,10.2],[.055,9.8],[.015,9.8],[.022,9.7],[.024,9.7],[-.031,9.5],[.041,9.1],[.055,9],[-.059,9.1],[-.041,8.8],[.084,8.8],[-.034,8.7],[-.057,8.6],[.004,8.4],[-.042,8.1],[-.022,8.2],[-.005,8.2],[.043,8],[.008,7.9],[.07,7.9],[.092,7.7],[.09,7.5],[-.055,7],[-.068,6.8],[.006,6.9],[.04,6.8],[-.025,6.4],[-.036,6.1],[-.018,6.1],[.011,6.1],[.029,6.1],[.004,5.9],[-.012,5.4],[.027,5.5],[-.037,5.3],[.047,4.4],[-.022,2.5]];
const rel_left_Cz=[[-.017,24.6],[.038,24.5],[.016,21.5],[-.082,20.4],[-.015,20.4],[-.036,19.5],[-.049,18.1],[-.017,17.3],[.032,17.4],[.064,17.2],[.049,16.5],[-.004,16.2],[.015,15.8],[.049,15.7],[-.024,15.4],[-.018,15.3],[-.016,14.7],[.021,14.5],[-.036,14.5],[.025,14.2],[-.034,13.9],[.01,14],[.015,13.9],[.032,13.9],[-.008,13.6],[-.016,13.4],[.007,13.3],[.035,13.2],[-.054,13.1],[-.001,13.1],[.02,12.4],[-.004,12.3],[-.011,12.1],[-.019,11.8],[-.028,11.5],[-.047,11.5],[-.067,11.2],[-.029,11.2],[-.06,10.7],[.029,10.5],[.052,10.3],[-.014,10.3],[.004,10.4],[-.027,9.8],[.022,9.8],[-.037,9.6],[-.021,9.7],[.016,9.6],[.041,9.1],[-.021,9.1],[.034,8.9],[.01,9],[-.022,9],[.057,8.6],[.014,8.5],[-.025,8.4],[-.006,8.3],[.003,8],[-.025,7.9],[-.028,7.8],[.037,7.8],[-.039,7.5],[-.008,7.5],[.028,7.5],[.047,7.5],[.01,7.4],[-.011,7.2],[.041,7],[.035,6.9],[.016,6.7],[.013,6.6],[-.055,6.5],[-.034,6.3],[-.017,6.4],[-.055,6.1],[-.074,6.2],[-.031,6.1],[-.034,6.2],[.01,6.2],[.034,6],[-.005,5.7],[.012,5.6],[-.047,5.2],[-.046,4.9],[-.027,4.8],[-.008,4.1],[.021,3.7],[.005,3.5]];
const rel_right_C3=[[.013,28.4],[-.027,25.5],[-.014,25.4],[-.024,24.9],[-.005,24.5],[-.004,23.2],[0,23.1],[-.045,22.4],[-.067,21.7],[.024,21.6],[.046,21.6],[.007,21.1],[-.006,20.8],[.026,20.7],[-.026,20.3],[.026,20.3],[-.039,19.6],[-.029,19.6],[.002,18.7],[-.054,18.2],[-.055,17.9],[-.018,18.1],[-.014,18.1],[-.031,17.4],[.02,17.4],[.008,16.7],[-.029,16.5],[-.045,16.4],[.04,16.5],[.02,16.3],[-.024,16.1],[.072,15.6],[.011,15.5],[-.029,15.1],[.008,14.8],[-.025,14.7],[-.021,14.5],[-.04,13.5],[-.014,13.4],[-.068,13.2],[-.048,13.1],[.021,13.2],[-.015,12.9],[-.03,12.7],[.023,12.6],[-.019,12.6],[-.067,11.9],[-.038,11.9],[-.036,12],[-.004,11.9],[.029,12],[.005,11.9],[-.034,11.2],[.011,11.2],[-.009,11.3],[-.065,10.9],[-.008,10.6],[-.023,10.5],[-.051,10.4],[-.039,10.5],[-.036,10.5],[-.025,10.1],[.023,10.3],[.035,10.3],[.047,10.1],[.055,9.9],[.045,9.8],[.014,9.7],[-.014,9.1],[.006,9],[-.011,8.9],[-.037,8.9],[-.058,8.8],[-.065,8.4],[.058,8.4],[.006,8.2],[-.023,8.1],[-.014,8],[-.019,7.6],[.011,7.5],[-.012,7.4],[-.039,7.2],[-.009,7.1],[.024,7.1],[.055,6.6],[.024,6.4],[.018,5.9],[.06,5.6]];
const rel_right_C4=[[.012,26.2],[.032,22.6],[-.039,19.8],[-.027,18.7],[-.034,17.7],[.035,17.6],[-.019,17.3],[.031,16.9],[-.009,16.6],[-.005,16.6],[-.027,16.4],[-.04,16.3],[.021,16.3],[-.049,15.9],[.035,16],[.04,15.8],[-.025,15.7],[-.011,15.6],[-.067,15.4],[-.003,15.1],[.06,15.1],[-.065,14.5],[-.035,14.6],[-.025,14.2],[-.045,13.3],[-.01,13.3],[.021,12.9],[.044,13],[-.04,12.8],[0,12.8],[.027,12.4],[-.018,12.3],[.009,12.2],[.006,11.9],[.028,11.6],[-.027,11.5],[-.032,11.2],[-.062,11.2],[-.047,11],[.035,11.1],[-.029,10.7],[-.024,10.6],[.021,10.7],[-.059,10.5],[.065,10.8],[.053,10.7],[-.01,10.4],[-.082,9.9],[-.071,9.7],[-.056,9.8],[.035,9.8],[0,9.6],[.012,9.6],[.032,9.4],[.037,9.2],[.063,9.5],[.08,9],[.006,8.7],[-.015,8.8],[-.029,8.7],[-.04,8.6],[-.022,8.3],[0,8.5],[-.015,8],[-.021,7.8],[.009,7.9],[.021,7.6],[-.05,7.6],[-.054,7.5],[.024,7.4],[-.025,7.1],[-.009,7],[.008,7],[.039,6.4],[-.016,6.4],[0,6.4],[.009,6.3],[-.015,5.9],[.008,5.8],[0,5.5],[.046,5.6],[0,5.4],[.046,5.2]];
const rel_right_Cz=[[-.034,22.1],[.001,21.2],[.003,20.1],[.005,19.7],[-.028,19.4],[.034,19.4],[.011,19.3],[-.017,18.8],[.009,18.7],[.066,18.2],[.023,17.7],[.018,17.6],[.011,17.5],[-.058,16.1],[.009,16.1],[-.042,15.7],[-.037,15.5],[.087,15.5],[.026,15.3],[.01,15],[-.037,14.3],[.068,14],[-.068,13.8],[.006,13.7],[-.022,13.6],[-.028,13.3],[-.037,13.2],[.001,13.1],[.041,13],[.07,12.8],[.047,12.7],[.004,12.2],[-.026,11.7],[-.008,11.7],[.028,11.3],[.007,11.4],[.028,11.1],[.028,10.4],[-.045,10.3],[-.049,10.2],[-.014,10.2],[.007,10.1],[.032,9.9],[-.031,9.9],[-.014,9.6],[.013,9.8],[.01,9.4],[.018,9.2],[.022,9.1],[.064,8.7],[-.057,8.6],[-.018,8.7],[-.012,8.6],[-.025,8.3],[-.04,8.2],[-.034,8],[-.008,8.1],[0,7.9],[-.024,7.6],[.013,7.4],[-.04,7.2],[-.028,7],[-.019,7],[.042,7.1],[.038,7],[.056,7],[-.012,6.7],[-.007,6.2],[-.004,6],[.025,6.1],[.015,5.5],[-.043,5.3],[-.027,5.1],[-.018,5.3],[-.008,5],[-.049,4.5],[.015,4.5],[.049,4.5],[.08,3.9]];
const rel_rest_C3=[[.006,29.5],[.018,28.3],[.014,26.8],[-.051,26.3],[-.025,26.4],[.012,25.6],[-.014,25],[-.039,24.7],[.008,24.5],[-.049,24.2],[-.009,23.6],[-.06,23.3],[-.014,22.8],[.029,21.5],[-.014,21.5],[.046,21.1],[.027,20.8],[-.019,20.6],[.04,20.4],[-.022,20.1],[-.008,20.2],[.014,19.7],[.051,19.7],[-.042,19.3],[-.028,19.2],[.043,19.3],[-.085,19],[0,19],[.055,18.9],[.061,18.7],[-.02,18.7],[-.022,18.5],[.025,18.5],[.014,18.2],[.037,18.3],[-.019,18],[.014,17.8],[-.049,17.6],[-.038,17.6],[-.019,17.4],[.048,17.4],[.061,17.3],[.029,17],[-.025,16.9],[-.065,16.3],[-.009,16.3],[.019,16.1],[.035,15.9],[.002,15.9],[-.024,15.7],[-.052,15.4],[.014,15.4],[-.021,15.1],[.024,15],[.054,14.8],[.056,14.3],[.003,14.2],[.041,14.1],[-.013,13.9],[-.018,13.5],[.008,13.4],[-.01,13.4],[.037,13.5],[-.048,12.8],[-.007,12.4],[.027,12.4],[.002,12.3],[.008,11.5],[-.019,11.3],[-.015,11.5],[-.045,11],[-.049,10.5],[-.019,10.4],[.021,10.2],[-.019,9.9],[.034,9.7],[.012,8.4],[-.047,8],[.035,7],[-.037,6.1],[-.008,6.1],[-.053,5.2],[-.02,3]];
const rel_rest_C4=[[-.039,29.4],[.004,25.7],[-.025,24.9],[.011,23.8],[-.036,23.5],[.017,23.5],[-.002,23.2],[.012,23.1],[.025,22.9],[-.049,22.4],[-.005,22.1],[-.024,22],[-.02,21.9],[.027,21.8],[.043,21.6],[.004,21.5],[.012,21.5],[.02,21.2],[-.059,21.1],[-.03,21.1],[-.019,20.9],[-.018,20.4],[.024,19.7],[-.009,19.6],[.001,19.3],[.051,19.1],[.033,18.9],[.053,18.4],[.016,18.2],[.013,18],[.052,17.8],[.005,17.5],[.032,17.2],[.018,16.9],[.041,16.8],[-.059,16.8],[-.036,16.6],[.026,16],[-.061,15.8],[.016,15.6],[-.033,15.3],[.072,15.4],[-.037,15],[.024,15],[.052,15],[.058,14.9],[.031,14.7],[-.059,14.6],[-.008,14.6],[-.024,14.7],[.055,14.5],[.014,14.3],[-.015,14.2],[-.058,14.1],[-.03,14],[.011,13.9],[-.049,13.9],[-.032,13.7],[.032,13.5],[-.015,13.5],[.005,13.4],[.057,13.1],[.024,13],[-.051,12.7],[-.042,12.4],[.02,12.3],[.028,12],[-.004,11.9],[.014,11.7],[-.017,11.4],[.041,11.2],[.047,11.1],[.018,10.9],[.011,10.9],[-.015,10.6],[.011,10.6],[.002,10.6],[-.027,9.8],[-.024,8.8],[-.002,8.9],[-.002,8.6],[-.035,8.7],[.012,7.5],[-.015,7],[-.011,7],[.07,7],[-.028,4.4],[.038,4.5]];
const rel_rest_Cz=[[.049,29],[.016,26.9],[-.016,26.6],[-.034,25.7],[-.038,25.3],[.015,25],[-.077,24.1],[-.033,24],[-.015,23.3],[.014,23],[-.041,22.8],[-.005,22.1],[.018,21.2],[.06,21.1],[.048,21],[-.029,20.8],[.018,20.5],[.015,20.4],[-.011,20.1],[-.027,19.9],[.058,19.8],[.049,19.6],[.009,19.2],[.041,19.3],[.024,18.8],[.039,18.8],[.069,18.6],[.011,18.3],[-.027,18.1],[-.016,18.2],[.041,18],[-.018,17.8],[.009,17.6],[.037,17.5],[-.044,17],[.067,17.1],[.006,16.9],[.047,16.6],[-.017,16.3],[-.088,16.1],[-.035,15.8],[-.032,15.8],[.03,15.5],[-.004,15.2],[-.032,15],[-.041,14.8],[-.002,14.5],[-.006,14.4],[.019,14.4],[-.012,13.9],[.063,13.9],[.047,13.6],[.009,13.7],[-.097,13.3],[-.031,13.4],[-.021,13.2],[.009,13.2],[.018,13.1],[.063,13.3],[-.071,13],[.009,12.9],[-.074,12.7],[-.012,12.6],[.027,12.6],[-.019,12.4],[.015,12.3],[.027,12.1],[.039,11.9],[-.05,11.9],[-.024,11.8],[.042,11.7],[.009,11.7],[-.009,11.7],[-.061,11.1],[.025,11.1],[.025,11],[-.012,10.6],[-.01,10.6],[-.025,10.1],[.067,10],[-.002,9.9],[0,8.4],[.006,8.3],[.006,7.7],[-.007,7.5],[.009,7],[.015,6.7],[.016,6.5],[-.011,2.9]];
// Relative High beta vs baseline (dB)
const reldb_left_C3=[[-.026,5.82],[-.029,5.7],[-.042,4.88],[-.012,4.85],[.055,4.66],[.041,3.87],[.014,3.7],[.03,3.54],[-.067,2.95],[-.009,2.57],[.023,2.5],[.034,2.53],[-.02,2.23],[-.041,2.16],[-.091,2.04],[-.026,2.08],[.018,2.06],[-.008,1.75],[.008,1.75],[.007,1.56],[-.02,1.48],[-.004,1.43],[-.021,1.29],[-.023,1.12],[.047,1.12],[-.034,1.04],[-.001,1.02],[-.026,.94],[-.032,.7],[-.011,.67],[-.05,.65],[-.046,.54],[.044,.56],[.069,.41],[.028,.26],[.041,.19],[-.079,.16],[.014,-.06],[-.02,-.24],[-.026,-.4],[.021,-.34],[-.059,-.57],[-.028,-.63],[-.02,-.58],[.041,-.63],[.027,-.81],[.017,-.95],[.044,-.91],[-.005,-1.03],[.021,-1.12],[.029,-1.12],[.023,-1.22],[.05,-1.35],[.007,-1.34],[-.049,-1.44],[-.014,-1.5],[.033,-1.52],[-.037,-1.63],[.005,-1.65],[.036,-1.67],[.017,-1.88],[.032,-1.83],[-.004,-1.91],[.014,-2.26],[-.017,-2.38],[-.008,-2.42],[-.039,-2.54],[-.064,-2.74],[.01,-2.78],[-.014,-2.8],[-.013,-2.9],[.018,-2.85],[.03,-2.85],[.101,-3.04],[.021,-3.2],[-.004,-3.14],[.011,-3.44],[.028,-3.42],[.022,-3.69],[-.037,-3.79],[-.017,-4.07],[-.025,-4.48],[.069,-4.62],[-.062,-5.48],[.01,-5.53],[.042,-5.6],[-.017,-5.85],[.004,-5.88],[.042,-6.21]];
const reldb_left_C4=[[.004,4.16],[-.063,3.8],[-.013,3.23],[.04,3.18],[.013,2.81],[-.046,2.7],[-.013,2.14],[-.03,1.9],[-.011,1.87],[-.047,1.48],[-.008,1.47],[-.039,1.29],[-.027,1.26],[.004,1.29],[.017,1.26],[-.041,.93],[-.057,.72],[.011,.63],[.001,.31],[-.079,.05],[-.037,-.08],[-.021,-.03],[-.008,-.25],[.024,-.29],[-.033,-.45],[.008,-.56],[-.023,-.61],[.068,-.64],[.059,-.61],[-.018,-.79],[-.008,-.86],[.051,-.82],[-.001,-1],[.041,-.98],[.017,-1.04],[.038,-1.28],[-.01,-1.35],[-.035,-1.52],[.018,-1.51],[.035,-1.67],[-.007,-1.83],[-.054,-2.13],[.023,-2.34],[-.08,-2.38],[-.01,-2.34],[.017,-2.46],[-.032,-2.64],[-.017,-2.63],[-.008,-2.68],[-.002,-2.8],[-.039,-2.99],[-.014,-2.98],[.018,-3.01],[-.01,-3.1],[.005,-3.15],[.031,-3.19],[.043,-3.32],[.026,-3.44],[.002,-3.34],[-.012,-3.39],[-.018,-3.58],[-.026,-3.8],[.037,-3.78],[-.002,-3.88],[.037,-3.9],[-.032,-4.05],[.013,-4.07],[-.015,-4.3],[-.047,-4.28],[-.057,-4.47],[.004,-4.56],[.004,-4.75],[-.02,-4.78],[-.014,-5.18],[.026,-5.1],[.032,-5.53],[-.021,-5.74],[-.002,-5.9],[.029,-5.9],[.045,-5.85],[.007,-6.94],[-.041,-7.81],[.024,-7.9]];
const reldb_left_Cz=[[.059,3.52],[.046,2.98],[-.041,2.86],[-.033,2.64],[-.003,2.72],[.031,2.81],[.014,2.39],[.001,1.7],[.054,1.59],[.054,1.28],[.027,.77],[-.008,.67],[.059,.54],[-.007,.41],[.021,.28],[.038,.19],[.027,-.03],[-.014,-.18],[-.069,-.53],[-.029,-.44],[.001,-.37],[.044,-.39],[-.02,-.61],[.004,-.54],[-.014,-.71],[.042,-.64],[.033,-.71],[-.061,-.99],[-.039,-1.26],[-.015,-1.2],[-.015,-1.27],[.015,-1.34],[.001,-1.54],[-.044,-1.63],[.001,-1.73],[.007,-1.85],[-.029,-1.95],[-.019,-1.9],[-.026,-2.03],[.015,-2.12],[-.008,-1.98],[-.035,-2.18],[.078,-2.47],[-.025,-2.71],[.007,-2.68],[.039,-2.74],[.042,-2.83],[.067,-2.85],[-.041,-3.08],[-.027,-3.01],[.004,-3.03],[.03,-3.1],[.01,-3.07],[.018,-3.13],[.033,-3.24],[-.039,-3.24],[-.058,-3.34],[-.014,-3.39],[.054,-3.42],[.007,-3.53],[-.008,-3.53],[.007,-3.68],[-.069,-3.86],[-.03,-3.95],[-.008,-3.9],[.01,-3.83],[.02,-3.95],[-.008,-4.07],[-.058,-4.15],[.017,-4.99],[.057,-4.85],[.041,-5.17],[-.014,-5.5],[-.007,-5.64],[.008,-5.44],[.02,-5.43],[.014,-5.83],[.025,-5.79],[-.058,-5.92],[-.041,-5.9],[-.063,-6.38],[-.024,-6.38],[.035,-6.51],[-.008,-7],[-.014,-7.1],[-.08,-7.53],[.079,-7.58],[-.011,-8.29]];
const reldb_right_C3=[[.024,5.26],[-.001,5.02],[.008,4.96],[-.007,4.41],[-.007,4.13],[.052,3.58],[.032,3.21],[-.028,3.1],[.005,2.79],[.04,2.79],[.022,2.48],[-.029,2.3],[.06,2.18],[.025,1.71],[.008,1.33],[-.018,1.22],[-.051,1.12],[-.066,1.06],[-.089,.77],[.051,.87],[.044,.77],[.078,.63],[.013,.83],[.029,.83],[-.008,.72],[.026,.62],[.01,.6],[-.028,.47],[-.017,.4],[.014,.44],[.004,.17],[-.026,.14],[-.014,0],[.025,-.22],[.008,-.29],[-.06,-.53],[-.038,-.68],[-.023,-.66],[.027,-.61],[-.024,-.91],[.038,-.93],[.056,-1.01],[.027,-1.1],[-.001,-1.25],[.033,-1.3],[.021,-1.37],[-.061,-1.63],[-.046,-1.63],[-.014,-1.59],[-.023,-1.65],[.015,-1.73],[.042,-1.71],[-.014,-1.83],[.03,-1.68],[.018,-2.03],[.008,-2.09],[-.03,-2.4],[-.052,-2.54],[-.044,-2.62],[-.005,-2.78],[-.029,-3],[-.008,-3.1],[-.022,-3.26],[-.007,-3.24],[.013,-3.34],[-.044,-3.49],[.005,-3.58],[-.042,-3.68],[-.017,-3.65],[.005,-3.95],[-.049,-4.45],[-.011,-4.91],[.034,-4.92],[.015,-5],[.032,-5.18],[-.001,-5.25],[-.064,-5.83]];
const reldb_right_C4=[[-.014,4.35],[-.01,4.33],[-.021,3.09],[.006,2.97],[.001,2.93],[.067,2.55],[-.019,2.55],[.012,2.39],[.027,2.36],[-.005,1.87],[.006,1.84],[-.009,1.77],[-.01,1.53],[-.015,1.45],[.023,1.19],[.048,1.19],[.044,1.02],[-.015,.65],[.01,.41],[.034,.4],[-.017,.36],[-.029,.31],[-.036,.2],[.014,.26],[.031,.19],[-.016,.13],[-.042,-.19],[-.005,-.2],[.043,-.31],[-.041,-.44],[-.029,-.45],[.013,-.42],[-.017,-.5],[.015,-.57],[-.035,-.66],[-.014,-.66],[-.015,-.86],[.038,-1.16],[-.015,-1.42],[.069,-1.51],[.01,-1.51],[-.013,-1.84],[.019,-1.91],[.037,-1.96],[-.011,-2.01],[.019,-2.01],[.007,-2.15],[.025,-2.07],[.072,-2.12],[.053,-2.22],[.036,-2.32],[.037,-2.37],[-.014,-2.41],[-.032,-2.56],[-.011,-2.71],[-.038,-2.76],[.01,-2.8],[.017,-2.9],[-.026,-2.9],[.01,-2.93],[-.035,-3.09],[.071,-3.14],[-.009,-3.13],[-.035,-3.3],[.004,-3.46],[-.007,-3.65],[.011,-3.63],[.036,-3.72],[.033,-3.9],[-.061,-4.04],[.015,-4],[.006,-4.17],[.033,-4.37],[.004,-4.26],[.009,-4.48],[.068,-4.95],[-.03,-5.41],[-.002,-5.67],[-.004,-6.35],[-.011,-7.55]];
const reldb_right_Cz=[[-.045,4.26],[-.008,4.06],[.061,2.88],[.038,2.81],[-.014,2.59],[.006,2.57],[.009,2.25],[.05,2],[-.038,1.87],[.008,.97],[-.017,.91],[-.001,.58],[-.027,.51],[-.047,.39],[-.024,.31],[.025,.2],[.045,.1],[-.008,.09],[.011,0],[-.044,-.19],[-.057,-.44],[-.058,-.47],[.035,-.37],[.02,-.43],[.069,-.39],[.062,-.43],[-.018,-.5],[-.032,-.71],[-.027,-.86],[-.026,-.97],[.055,-1.01],[-.004,-1.1],[.02,-1.16],[-.029,-1.18],[-.045,-1.33],[-.023,-1.3],[.082,-1.37],[-.042,-1.47],[.013,-1.47],[-.036,-1.67],[-.014,-1.61],[.02,-1.73],[-.01,-1.88],[.023,-2.01],[-.042,-2.19],[-.021,-2.29],[.061,-2.19],[-.042,-2.44],[.034,-2.62],[.013,-2.66],[-.033,-2.8],[-.021,-2.85],[-.004,-2.8],[.034,-2.9],[.02,-2.98],[-.02,-3.05],[-.004,-3.05],[.014,-3.34],[-.065,-3.37],[-.013,-3.41],[.042,-3.44],[.014,-3.58],[-.011,-3.71],[.039,-3.71],[-.023,-3.78],[-.057,-3.77],[.021,-3.81],[.014,-3.68],[.053,-4.12],[.033,-4.27],[.02,-4.47],[.001,-4.63],[-.072,-4.78],[.034,-4.91],[.045,-4.97],[-.026,-5.12],[-.001,-5.2],[-.014,-5.29],[-.032,-5.38],[.017,-5.48],[.01,-5.77],[-.051,-5.9],[.058,-5.9],[-.079,-6.28],[-.03,-6.75],[-.002,-7.73],[.018,-7.73]];
const reldb_rest_C3=[[.046,5.51],[-.034,4.66],[.015,4.64],[-.045,4.48],[-.017,4.18],[-.017,3.9],[.001,3.83],[-.039,3.45],[.015,3.16],[.012,3.01],[.036,3.03],[.095,2.86],[-.061,2.72],[-.002,2.43],[-.017,2.28],[.009,2.29],[.027,2.06],[-.057,1.89],[-.015,2],[.03,1.92],[-.029,1.72],[-.015,1.74],[.045,1.49],[-.022,1.4],[.013,1.4],[-.038,1.17],[-.008,1.06],[.043,.82],[.003,.72],[-.019,.44],[.021,.47],[.041,.33],[.051,.33],[-.074,.18],[-.018,.09],[-.041,.05],[-.03,-.05],[.003,-.32],[-.048,-.33],[.039,-.31],[-.041,-.47],[.015,-.58],[-.025,-.56],[.038,-.64],[-.016,-.76],[-.042,-.73],[-.052,-.88],[.004,-.91],[-.037,-1],[-.022,-1],[-.006,-.95],[-.027,-1.25],[-.01,-1.22],[.011,-1.26],[-.07,-1.26],[-.067,-1.37],[.032,-1.37],[-.045,-1.59],[.034,-1.61],[.044,-1.73],[-.037,-1.9],[.04,-1.93],[-.032,-2.04],[-.017,-1.98],[-.006,-2.17],[.037,-2.29],[.051,-2.47],[.023,-2.46],[-.013,-2.71],[.051,-2.83],[.042,-3.03],[-.038,-3.04],[.018,-2.97],[-.002,-3.05],[.043,-3.16],[.009,-3.05],[-.01,-3.37],[.04,-3.37],[0,-3.79],[-.052,-4.75],[.034,-5.15]];
const reldb_rest_C4=[[.001,5.46],[-.007,4.65],[.015,4.64],[-.011,4.32],[.022,4.31],[-.011,4.18],[-.003,3.89],[.036,3.87],[-.014,3.58],[-.014,3.08],[-.008,3.08],[.02,3.08],[.04,3.03],[-.042,2.88],[.052,2.9],[.001,2.84],[.01,2.5],[-.032,2.18],[-.02,2.13],[.024,2.28],[.022,2.08],[.001,2.11],[.006,1.89],[.064,1.75],[.036,1.59],[-.039,1.49],[-.029,1.43],[0,1.38],[.019,1.33],[.032,1.17],[-.02,.99],[-.032,.91],[-.017,.77],[.028,.78],[.046,.67],[.013,.63],[.019,.67],[.028,.51],[.001,.56],[.019,.36],[.028,.19],[-.086,.19],[.001,.17],[-.026,-.15],[.014,-.42],[-.026,-.39],[-.015,-.5],[-.061,-.62],[.077,-.72],[-.02,-.86],[.059,-.88],[.015,-.95],[-.029,-1.02],[.059,-1.12],[.018,-1.22],[-.014,-1.24],[-.03,-1.3],[-.052,-1.37],[-.041,-1.44],[.013,-1.41],[-.023,-1.49],[.029,-1.51],[-.013,-1.64],[-.047,-1.73],[.074,-1.85],[.024,-2.07],[.011,-2.01],[-.026,-2.15],[-.015,-2.15],[.022,-2.5],[-.038,-2.78],[-.035,-2.87],[.013,-2.88],[-.027,-3.09],[-.008,-3.15],[.004,-3.14],[-.005,-3.26],[-.022,-3.43],[-.014,-3.59],[-.05,-3.6],[0,-3.9],[.039,-4.26],[-.014,-4.49],[-.002,-4.73],[.048,-4.73],[.049,-6.42],[.039,-6.45],[.082,-6.51]];
const reldb_rest_Cz=[[-.054,6.4],[.013,6.24],[.036,5.41],[-.056,5.31],[.002,5],[.034,4.6],[-.005,3.47],[-.034,3.26],[.014,3.01],[.034,3.15],[-.019,2.84],[-.004,2.86],[-.011,2.7],[-.001,2.75],[.017,2.77],[.029,2.7],[.048,2.48],[-.017,2.24],[-.019,2.02],[-.038,1.95],[.023,1.92],[-.008,1.35],[-.005,1.24],[-.044,1.13],[.017,1.14],[-.026,1.04],[-.019,.99],[-.002,.9],[.01,.77],[.035,.65],[.015,.57],[-.002,.6],[.026,.43],[-.014,.38],[-.029,.21],[-.035,.09],[-.047,.02],[.044,-.03],[-.011,-.03],[-.058,-.27],[-.039,-.39],[-.019,-.27],[.015,-.68],[.026,-.68],[.033,-.83],[.044,-.88],[.073,-.95],[.011,-1.04],[-.05,-1.21],[-.021,-1.22],[.027,-1.34],[.001,-1.37],[-.014,-1.57],[-.014,-1.67],[-.021,-1.84],[.029,-2.03],[.045,-2.19],[-.03,-2.34],[-.026,-2.39],[.018,-2.32],[.015,-2.43],[-.019,-2.68],[-.005,-2.74],[.018,-2.83],[.002,-2.93],[-.026,-3.22],[-.051,-3.44],[-.007,-3.44],[-.023,-3.52],[-.019,-3.69],[.026,-3.6],[.053,-3.65],[.007,-3.71],[.002,-3.76],[.056,-5.01],[-.013,-5.14],[-.007,-5.27],[-.014,-5.24],[-.001,-5.53],[.02,-6.48]];

// Mean and mean +/- SD per condition (rows) and channel (columns)
const raw_mean=[[.243,.235,.319],[.228,.225,.296],[.264,.267,.355]];
const raw_low=[[.142,.123,.177],[.133,.129,.172],[.141,.144,.197]];
const raw_high=[[.342,.346,.46],[.323,.32,.421],[.386,.391,.512]];
const db_mean=[[1.6,1.07,1.29],[1.31,1.62,1.35],[1.79,1.84,1.88]];
const db_low=[[-.77,-1.41,-1.21],[-1.21,-.93,-1.33],[-.66,-.89,-.73]];
const db_high=[[3.95,3.54,3.78],[3.85,4.14,4],[4.25,4.56,4.5]];
const rel_mean=[[14.7,11.45,10.8],[13.8,11.5,10.9],[17.1,15.8,15.8]];
const rel_low=[[9.4,6.73,6.27],[8.49,7.53,6.63],[11.4,10.8,10.5]];
const rel_high=[[20,16.1,15.3],[19.1,15.5,15.2],[22.9,20.8,21.1]];
const reldb_mean=[[-.59,-2,-2.41],[-.78,-1.13,-2.01],[.07,-.03,-.19]];
const reldb_low=[[-3.21,-4.65,-4.99],[-3.17,-3.49,-4.5],[-2.22,-2.81,-2.87]];
const reldb_high=[[2.04,.65,.19],[1.65,1.21,.48],[2.31,2.75,2.5]];

const conditions=['左腳','右腳','Rest'];
const channels=['C3','C4','Cz'];
const channelColors=['#2a7f78','#cc4e72','#3f74d9'];
const dodge=[-.22,0,.22];
const FONT="'Noto Sans','Noto Sans CJK TC',sans-serif";

const panels=[
 {title:'未除 baseline：raw High beta PSD',ylabel:'Raw High beta PSD density',top:110,bottom:749,yMin:0,yMax:.702,xMin:-.42,xMax:2.42,ticks:[0,.1,.2,.3,.4,.5,.6,.7],digits:1,nameGap:53,zero:false,
  strips:[[raw_left_C3,raw_left_C4,raw_left_Cz],[raw_right_C3,raw_right_C4,raw_right_Cz],[raw_rest_C3,raw_rest_C4,raw_rest_Cz]],mean:raw_mean,low:raw_low,high:raw_high},
 {title:'有除 baseline：High beta PSD dB change',ylabel:'High beta PSD vs baseline (dB)',top:851.5,bottom:1490.5,yMin:-5.25,yMax:8.9,xMin:-.428,xMax:2.407,ticks:[-4,-2,0,2,4,6,8],digits:0,nameGap:50,zero:true,
  strips:[[db_left_C3,db_left_C4,db_left_Cz],[db_right_C3,db_right_C4,db_right_Cz],[db_rest_C3,db_rest_C4,db_rest_Cz]],mean:db_mean,low:db_low,high:db_high},
 {title:'相對功率：High beta / 0.5-50 Hz',ylabel:'High beta relative power (%)',top:1593,bottom:2232,yMin:0,yMax:29.45,xMin:-.4155,xMax:2.417,ticks:[0,5,10,15,20,25],digits:0,nameGap:50,zero:false,
  strips:[[rel_left_C3,rel_left_C4,rel_left_Cz],[rel_right_C3,rel_right_C4,rel_right_Cz],[rel_rest_C3,rel_rest_C4,rel_rest_Cz]],mean:rel_mean,low:rel_low,high:rel_high},
 {title:'相對功率除 baseline：relative High beta dB change',ylabel:'Relative High beta vs baseline (dB)',top:2334,bottom:2973,yMin:-8.35,yMax:6.65,xMin:-.442,xMax:2.424,ticks:[-8,-6,-4,-2,0,2,4,6],digits:0,nameGap:51,zero:true,
  strips:[[reldb_left_C3,reldb_left_C4,reldb_left_Cz],[reldb_right_C3,reldb_right_C4,reldb_right_Cz],[reldb_rest_C3,reldb_rest_C4,reldb_rest_Cz]],mean:reldb_mean,low:reldb_low,high:reldb_high}
];

const option={animation:false,backgroundColor:'#fff',grid:[],xAxis:[],yAxis:[],series:[],legend:[],
 title:[{text:'sub3 C3/C4/Cz High beta PSD 任務分布',left:972,top:3,textAlign:'center',textStyle:{fontFamily:FONT,fontSize:40.5,fontWeight:600,color:'#000'}}]};

panels.forEach(function(p,i){
 option.grid.push({left:96,width:1840,top:p.top,height:p.bottom-p.top,show:true,borderColor:'#000',borderWidth:2.4,backgroundColor:'#fff',containLabel:false});
 option.title.push({text:p.title,left:1016,top:p.top-47,textAlign:'center',textStyle:{fontFamily:FONT,fontSize:34.6,fontWeight:600,color:'#000'}});
 option.title.push({text:'Channel',left:1859,top:p.top+17,textAlign:'center',textStyle:{fontFamily:FONT,fontSize:25,fontWeight:'normal',color:'#000'}});
 option.xAxis.push({type:'value',gridIndex:i,min:p.xMin,max:p.xMax,splitLine:{show:false},
  axisLine:{show:true,onZero:false,lineStyle:{color:'#000',width:2.4}},
  axisTick:{show:true,length:9,customValues:[0,1,2],lineStyle:{color:'#000',width:2}},
  axisLabel:{customValues:[0,1,2],margin:18,fontFamily:FONT,fontSize:24,color:'#1a1a1a',formatter:function(v){return conditions[Math.round(v)]}}});
 option.yAxis.push({type:'value',gridIndex:i,min:p.yMin,max:p.yMax,name:p.ylabel,nameLocation:'middle',nameGap:p.nameGap,nameRotate:90,
  nameTextStyle:{fontFamily:FONT,fontSize:25,color:'#1a1a1a'},
  axisLine:{show:true,onZero:false,lineStyle:{color:'#000',width:2.4}},
  axisTick:{show:true,length:9,customValues:p.ticks,lineStyle:{color:'#000',width:2}},
  splitLine:{show:true,lineStyle:{color:'#dde6f0',width:2}},
  axisLabel:{customValues:p.ticks,margin:17,fontFamily:FONT,fontSize:25,color:'#1a1a1a',formatter:function(v){return v.toFixed(p.digits)}}});
 channels.forEach(function(ch,c){
  const pts=[];
  conditions.forEach(function(_,g){p.strips[g][c].forEach(function(d){pts.push([g+dodge[c]+d[0],d[1]])})});
  const scatter={name:ch,type:'scatter',xAxisIndex:i,yAxisIndex:i,data:pts,symbol:'circle',symbolSize:15,z:3,clip:true,silent:true,
   itemStyle:{color:channelColors[c],opacity:.7,borderColor:'#fff',borderWidth:1.2}};
  if(p.zero&&c===0){
   scatter.markLine={silent:true,symbol:'none',label:{show:false},z:1,animation:false,lineStyle:{color:'#a0aab8',width:2.6,type:'solid',opacity:1},data:[{yAxis:0}]};
  }
  option.series.push(scatter);
  // Mean +/- SD whiskers through the library's value scale
  const bars=conditions.map(function(_,g){return [g+dodge[c],p.low[g][c],p.high[g][c]]});
  option.series.push({name:ch+' sd',type:'custom',xAxisIndex:i,yAxisIndex:i,data:bars,z:4,silent:true,clip:true,encode:{x:0,y:[1,2]},
   renderItem:function(params,api){
    const lo=api.coord([api.value(0),api.value(1)]);
    const hi=api.coord([api.value(0),api.value(2)]);
    const col=channelColors[c];
    return {type:'group',children:[
     {type:'line',shape:{x1:lo[0],y1:lo[1],x2:hi[0],y2:hi[1]},style:{stroke:col,lineWidth:5.5}},
     {type:'line',shape:{x1:lo[0]-12.5,y1:lo[1],x2:lo[0]+12.5,y2:lo[1]},style:{stroke:col,lineWidth:3}},
     {type:'line',shape:{x1:hi[0]-12.5,y1:hi[1],x2:hi[0]+12.5,y2:hi[1]},style:{stroke:col,lineWidth:3}}
    ]};
   }});
  option.series.push({name:ch+' mean',type:'scatter',xAxisIndex:i,yAxisIndex:i,z:5,silent:true,symbol:'circle',symbolSize:22,
   data:conditions.map(function(_,g){return [g+dodge[c],p.mean[g][c]]}),
   itemStyle:{color:channelColors[c],opacity:1,borderColor:'#000',borderWidth:3}});
 });
 option.legend.push({show:true,orient:'vertical',left:1825,top:p.top+56,itemWidth:16,itemHeight:16,itemGap:12,icon:'circle',align:'left',selectedMode:false,
  data:channels,textStyle:{fontFamily:FONT,fontSize:26,color:'#000',lineHeight:26,padding:[0,0,0,32]}});
});

echarts.init(document.getElementById('chart'),null,{renderer:'canvas'}).setOption(option);
</script>
</body>
</html>
